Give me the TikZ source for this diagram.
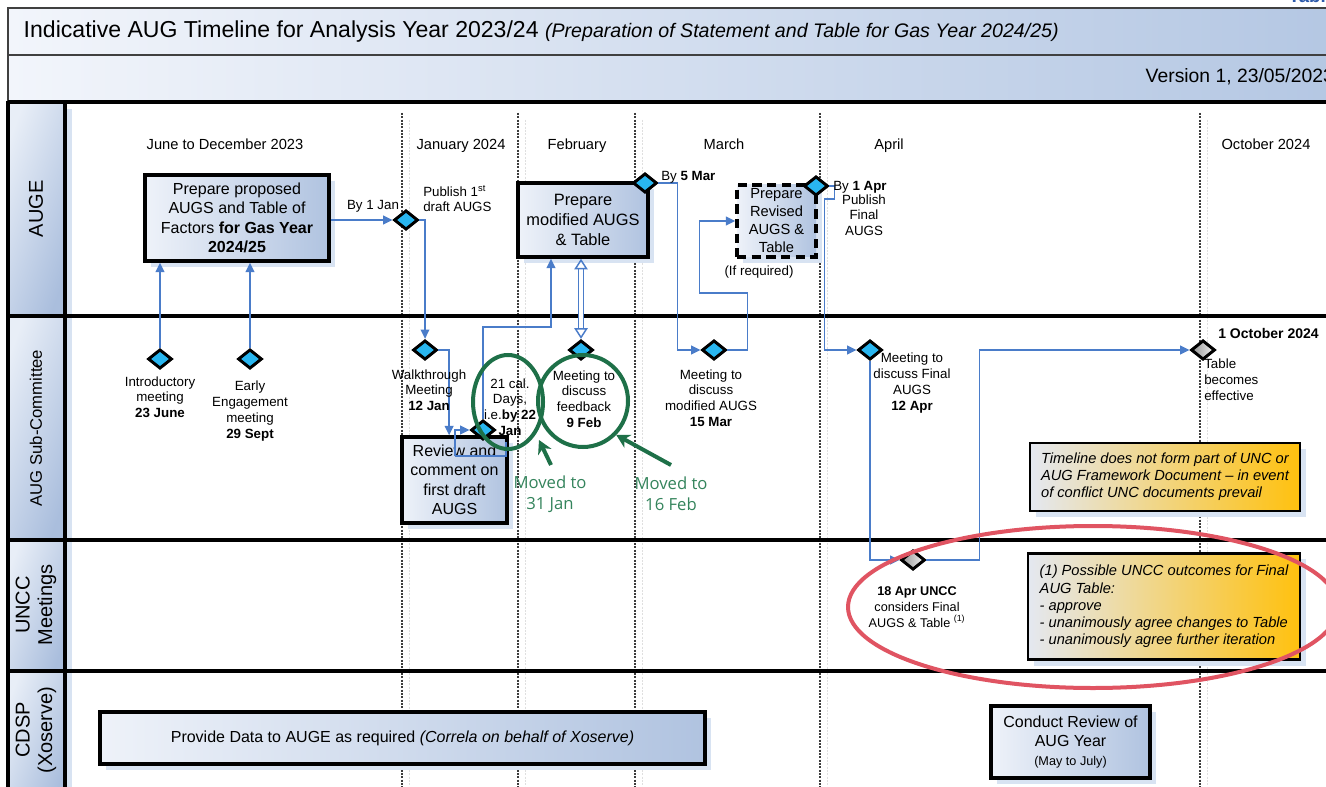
\documentclass[tikz,border=0pt]{standalone}
\usepackage{fontspec}
\setmainfont{Liberation Sans}
\newfontfamily\movedfont{Open Sans}
\usetikzlibrary{arrows.meta}
\usetikzlibrary{shapes.geometric}
\usetikzlibrary{shadows}

\definecolor{lineblue}{RGB}{74,124,201}
\definecolor{boxleft}{RGB}{238,242,249}
\definecolor{boxright}{RGB}{176,195,224}
\definecolor{shadowblue}{RGB}{216,227,242}
\definecolor{hdrlight}{RGB}{232,238,247}
\definecolor{hdrdark}{RGB}{170,190,221}
\definecolor{diamblue}{RGB}{41,182,240}
\definecolor{notel}{RGB}{228,232,241}
\definecolor{noter}{RGB}{255,193,14}
\definecolor{mgreen}{RGB}{30,112,72}
\definecolor{mtext}{RGB}{52,132,92}
\definecolor{ringred}{RGB}{224,84,98}
\definecolor{titleleft}{RGB}{242,245,251}
\definecolor{titleright}{RGB}{180,199,227}
\definecolor{sepgray}{RGB}{60,60,60}
\definecolor{tabblue}{RGB}{45,90,170}

\begin{document}
\begin{tikzpicture}[x=0.75pt,y=-0.75pt,
  task/.style={draw, line width=2.6pt, left color=boxleft, right color=boxright, align=center, inner sep=2pt,
    drop shadow={shadow xshift=4.5pt, shadow yshift=-4.5pt, fill=shadowblue, opacity=1},
    font=\fontsize{12}{14.6}\selectfont},
  note/.style={draw, line width=2.2pt, left color=notel, right color=noter, align=left, inner sep=2pt,
    drop shadow={shadow xshift=4.5pt, shadow yshift=-4.5pt, fill=shadowblue, opacity=1},
    font=\fontsize{11}{12.9}\selectfont\itshape},
  dia/.style={diamond, draw, line width=2.2pt, fill=diamblue, minimum width=18pt, minimum height=14.5pt, inner sep=0pt},
  gdia/.style={dia, left color=gray!85, right color=gray!10},
  conn/.style={draw=lineblue, line width=1.3pt, -{Triangle[length=7pt,width=6.5pt]}},
  wire/.style={draw=lineblue, line width=1.3pt},
  dblline/.style={draw=lineblue, line width=1.1pt, double=white, double distance=2.8pt,
    {Triangle[open,length=8pt,width=10pt]}-{Triangle[open,length=8pt,width=10pt]}},
  lbl/.style={align=center, inner sep=0pt, font=\fontsize{10}{11.8}\selectfont},
  month/.style={anchor=base, font=\fontsize{11}{13}\selectfont},
  lanehead/.style={rotate=90, align=center, font=\fontsize{15}{17}\selectfont},
  lane/.style={line width=3pt},
  sep/.style={draw=sepgray, line width=0.8pt, dash pattern=on 1.5pt off 1pt},
  sepfaint/.style={draw=gray!25, line width=0.6pt, dash pattern=on 1.5pt off 1pt},
  ring/.style={ellipse, draw=mgreen, line width=3pt, inner sep=0pt},
  garrow/.style={draw=mgreen, line width=3pt, -{Stealth[length=10pt,width=11pt]}},
  moved/.style={text=mtext, align=center, font=\movedfont\fontsize{12.5}{15.75}\selectfont}]

  \useasboundingbox (0,0) rectangle (1326,787);
  \clip (0,0) rectangle (1326,787);
  \fill[white] (0,0) rectangle (1326,787);

  % title bands
  \shade[left color=titleleft, right color=titleright] (8,8) rectangle (1340,55);
  \shade[left color=titleleft, right color=titleright] (8,55) rectangle (1340,101);
  \draw[gray!50!black, line width=1.3pt] (1340,8) -- (8,8) -- (8,101);
  \draw[gray!50!black, line width=1pt] (8,55) -- (1340,55);
  \node[anchor=west, font=\fontsize{17.3}{20}\selectfont] (title) at (19,32)
    {Indicative AUG Timeline for Analysis Year 2023/24 {\fontsize{14.7}{17}\selectfont\itshape (Preparation of Statement and Table for Gas Year 2024/25)}};
  \node[anchor=west, font=\fontsize{14.5}{17}\selectfont] (version) at (1141,77) {Version 1, 23/05/2023};
  \node[anchor=base west, text=tabblue, font=\bfseries\fontsize{14}{16}\selectfont] (tabletag) at (1284,3) {Table};

  % swimlane headers
  \foreach \ya/\yb in {102/316,316/540,540/671,671/800}
    \fill[shadowblue] (14,\ya+7) rectangle (72,\yb+7);
  \foreach \ya/\yb in {102/316,316/540,540/671,671/800}
    \shade[left color=hdrlight, right color=hdrdark, shading angle=70] (8,\ya) rectangle (65,\yb);

  % month separators
  \foreach \sx in {402,518,635,820,1200} {
    \draw[sepfaint] (\sx+7,120) -- (\sx+7,790);
    \draw[sep] (\sx,113) -- (\sx,790);
  }

  \foreach \ly in {102,316,540,671}
    \draw[lane] (8,\ly) -- (1340,\ly);
  \draw[line width=2.5pt] (8,101) -- (8,800);
  \draw[line width=3pt] (65,101) -- (65,800);

  \node[lanehead] (h-auge) at (36,209) {AUGE};
  \node[lanehead, font=\fontsize{12.5}{15}\selectfont] (h-sub) at (36,428) {AUG Sub-Committee};
  \node[lanehead] (h-uncc) at (36,605) {UNCC\\Meetings};
  \node[lanehead] (h-cdsp) at (36,730) {CDSP\\(Xoserve)};

  \node[month] (m-jun) at (225,150) {June to December 2023};
  \node[month] (m-jan) at (461,150) {January 2024};
  \node[month] (m-feb) at (577,150) {February};
  \node[month] (m-mar) at (724,150) {March};
  \node[month] (m-apr) at (889,150) {April};
  \node[month] (m-oct) at (1266,150) {October 2024};

  % tasks
  \node[task, minimum width=138pt, minimum height=64.5pt] (prop) at (237,218)
    {Prepare proposed\\AUGS and Table of\\Factors \textbf{for Gas Year}\\\textbf{2024/25}};
  \node[task, minimum width=97.5pt, minimum height=55.5pt, font=\fontsize{12.3}{15}\selectfont] (mod) at (583,220)
    {Prepare\\modified AUGS\\\& Table};
  \node[task, dash pattern=on 7pt off 4pt, minimum width=59.25pt, minimum height=54pt, font=\fontsize{11}{13.5}\selectfont] (rev) at (776.5,221)
    {Prepare\\Revised\\AUGS \&\\Table};
  \node[task, minimum width=78.75pt, minimum height=64.5pt] (review) at (454.5,480)
    {Review and\\comment on\\first draft\\AUGS};
  \node[task, minimum width=453.75pt, minimum height=39pt] (data) at (402.5,738)
    {Provide Data to AUGE as required \textit{(Correla on behalf of Xoserve)}};
  \node[task, minimum width=119.25pt, minimum height=54pt] (conduct) at (1070.5,742)
    {Conduct Review of\\AUG Year\\{\fontsize{9.5}{11}\selectfont (May to July)}};

  \node[note, minimum width=202.5pt, minimum height=51pt] (note1) at (1165,477)
    {Timeline does not form part of UNC or\\AUG Framework Document -- in event\\of conflict UNC documents prevail};
  \node[note, minimum width=204pt, minimum height=80pt] (note2) at (1164,606.5)
    {(1) Possible UNCC outcomes for Final\\AUG Table:\\- approve\\- unanimously agree changes to Table\\- unanimously agree further iteration};

  % milestones
  \foreach \nm/\px/\py in {jan1/406/220, intro/160/359, early/250/359, walk/425/350, 22jan/483/430,
      feed/581/350, 5mar/645/183, mod/714/350, 1apr/816/186, final/870/350}
    \node[dia] (d-\nm) at (\px,\py) {};
  \node[gdia] (d-uncc) at (913,560) {};
  \node[gdia] (d-oct) at (1203,350) {};

  \coordinate (rv-out) at (455,456);
  \coordinate (bend-a) at (551,327);

  \draw[conn] (d-intro) -- (d-intro |- prop.south);
  \draw[conn] (d-early) -- (d-early |- prop.south);
  \draw[conn] (prop.east |- d-jan1) -- (d-jan1);
  \draw[conn] (d-jan1) -| (d-walk);
  \draw[conn] (d-walk) -| ([xshift=-4pt]review.north);
  \draw[conn] (rv-out) |- (d-22jan);
  \draw[wire] (rv-out) -- ++(51,0) -- ++(0,-14);
  \draw[conn] (d-22jan) |- (bend-a) -- (bend-a |- mod.south);
  \draw[dblline] (d-feed) -- (d-feed |- mod.south);
  \draw[conn] (d-5mar.east) -- ++(19,0) |- (d-mod);
  \draw[conn] (d-mod.east) -- ++(20,0) -- ++(0,-57) -- ++(-48,0) |- (rev.west);
  \draw[conn] (d-1apr.east) -- ++(5,0) -- ++(0,13) -- ++(-10,0) |- (d-final);
  \draw[conn] (d-final) |- (d-uncc);
  \draw[conn] (d-uncc.east) -- ++(53,0) |- (d-oct);

  % labels
  \node[lbl] (l-byjan) at (373,206) {By 1 Jan};
  \node[lbl, anchor=north west, align=left] (l-pub1) at (423,185) {Publish 1\textsuperscript{st}\\draft AUGS};
  \node[lbl, anchor=west] (l-by5) at (661,177) {By \textbf{5 Mar}};
  \node[lbl] (l-ifreq) at (759,272) {(If required)};
  \node[lbl, anchor=west] (l-by1apr) at (833,187) {By \textbf{1 Apr}};
  \node[lbl] (l-pubfin) at (864,215) {Publish\\Final\\AUGS};
  \node[lbl] (l-intro) at (160,397) {Introductory\\meeting\\\textbf{23 June}};
  \node[lbl] (l-early) at (250,411) {Early\\Engagement\\meeting\\\textbf{29 Sept}};
  \node[lbl] (l-walk) at (429,390) {Walkthrough\\Meeting\\\textbf{12 Jan}};
  \node[lbl] (l-21) at (510,407) {21 cal.\\Days,\\i.e.\textbf{by 22}\\\textbf{Jan}};
  \node[lbl] (l-feed) at (584,399) {Meeting to\\discuss\\feedback\\\textbf{9 Feb}};
  \node[lbl] (l-mod) at (711,398) {Meeting to\\discuss\\modified AUGS\\\textbf{15 Mar}};
  \node[lbl] (l-final) at (912,383) {Meeting to\\discuss Final\\AUGS\\\textbf{12 Apr}};
  \node[lbl, anchor=west, font=\bfseries\fontsize{10.5}{12}\selectfont] (l-oct) at (1218,333) {1 October 2024};
  \node[lbl, anchor=north west, align=left] (l-eff) at (1204,359) {Table\\becomes\\effective};
  \node[lbl, font=\fontsize{9.5}{11.8}\selectfont] (l-uncc) at (917,607)
    {\textbf{18 Apr UNCC}\\considers Final\\AUGS \& Table \textsuperscript{(1)}};

  % annotations
  \node[ring, minimum width=52.5pt, minimum height=70.5pt] (circ1) at (508,402) {};
  \node[ring, minimum width=67.5pt, minimum height=69pt] (circ2) at (583,401) {};
  \node[moved] (moved1) at (550,494) {Moved to\\31 Jan};
  \node[moved] (moved2) at (671,494) {Moved to\\16 Feb};
  \coordinate (g1-tail) at (551,465);
  \coordinate (g1-tip) at (539,440);
  \coordinate (g2-tail) at (671,465);
  \draw[garrow] (g1-tail) -- (g1-tip);
  \draw[garrow] (g2-tail) -- (circ2.south east);
  \node[ellipse, draw=ringred, line width=3pt, minimum width=367.5pt, minimum height=121.5pt] (outcome-ring) at (1093,607) {};

\end{tikzpicture}
\end{document}
